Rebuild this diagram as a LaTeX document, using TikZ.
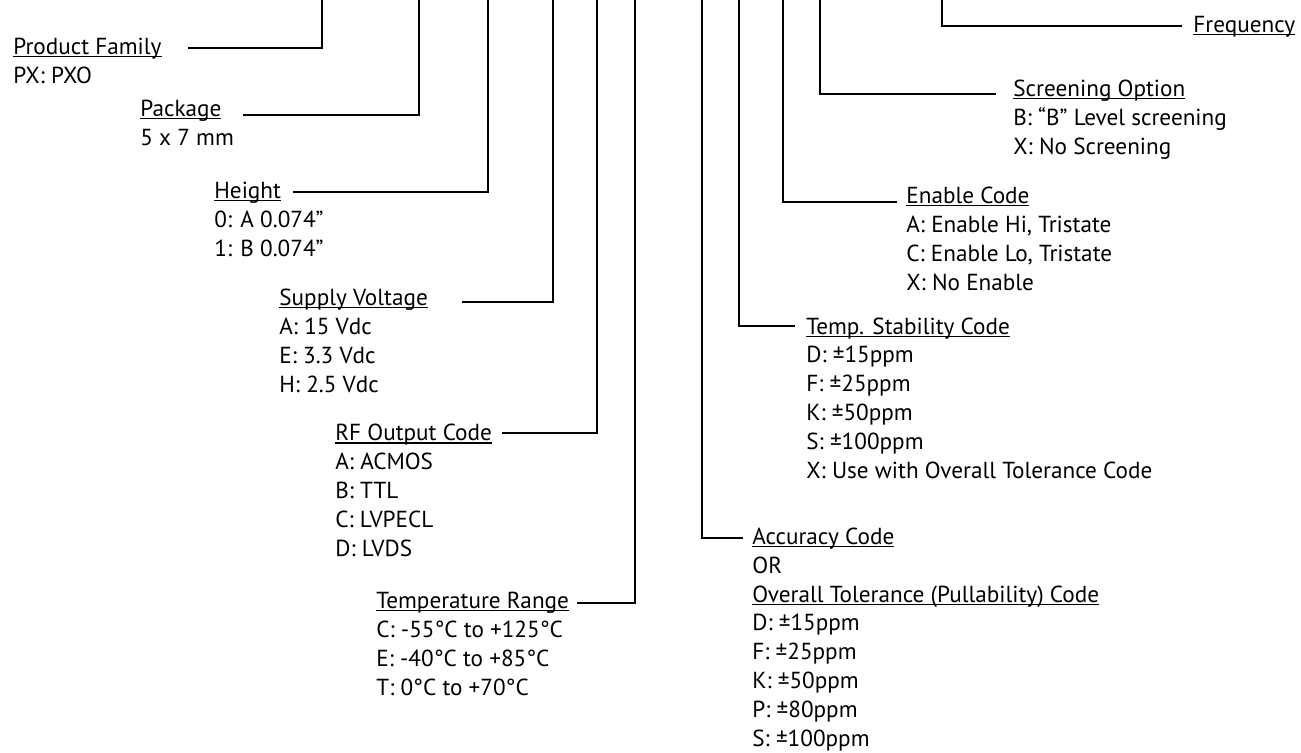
\documentclass[tikz,border=0pt]{standalone}
\usepackage{fontspec}
\setmainfont{PT Sans}
\usetikzlibrary{positioning}

% underlined heading, rule set just under the baseline
\newcommand{\ulhd}[1]{\setbox0\hbox{#1}\rlap{\rule[-1.35pt]{\wd0}{0.6pt}}\box0}

\begin{document}
\begin{tikzpicture}[x=0.5pt,y=-0.5pt]
\tikzset{lbl/.style={anchor=base west,inner sep=0pt,align=left,
    font=\fontsize{11.6}{14.4}\selectfont}};
\tikzset{lead/.style={line width=1.3pt}};

\useasboundingbox (0,0) rectangle (1301,752);

% code fields, left side (placed at the baseline of their last line)
\node[lbl] (pf) at (13,83) {\ulhd{Product Family}\\PX: PXO};
\node[lbl] (pkg) at (140,145) {\ulhd{Package}\\5 x 7 mm};
\node[lbl] (ht) at (214,256) {\ulhd{Height}\\0: A 0.074”\\1: B 0.074”};
\node[lbl] (sv) at (279,392) {\ulhd{Supply Voltage}\\A: 15 Vdc\\E: 3.3 Vdc\\H: 2.5 Vdc};
\node[lbl] (rf) at (335,556) {\ulhd{RF Output Code}\\A: ACMOS\\B: TTL\\C: LVPECL\\D: LVDS};
\node[lbl] (tr) at (376,695) {\ulhd{Temperature Range}\\C: -55°C to +125°C\\E: -40°C to +85°C\\T: 0°C to +70°C};

% code fields, right side
\node[lbl] (acc) at (752,746) {\ulhd{Accuracy Code}\\OR\\\ulhd{Overall Tolerance (Pullability) Code}\\D: ±15ppm\\F: ±25ppm\\K: ±50ppm\\P: ±80ppm\\S: ±100ppm};
\node[lbl] (ts) at (806,478) {\ulhd{Temp. Stability Code}\\D: ±15ppm\\F: ±25ppm\\K: ±50ppm\\S: ±100ppm\\X: Use with Overall Tolerance Code};
\node[lbl] (en) at (906,290) {\ulhd{Enable Code}\\A: Enable Hi, Tristate\\C: Enable Lo, Tristate\\X: No Enable};
\node[lbl] (scr) at (1013,154) {\ulhd{Screening Option}\\B: “B” Level screening\\X: No Screening};
\node[lbl] (freq) at (1193,32) {\ulhd{Frequency}};

% leaders
\foreach \n/\x/\y/\e in {pf/322/48/188,pkg/419/115/243,ht/488/192/293,
    sv/553/302/462,rf/597/433/502,tr/635/603/577,acc/702/538/743,
    ts/739/326/795,en/783/202/897,scr/820/94/996,freq/942/26/1182}
{
  \coordinate (\n-top) at (\x,-4);
  \coordinate (\n-end) at (\e,\y);
  \draw[lead] (\n-top) |- (\n-end);
}
\end{tikzpicture}
\end{document}
